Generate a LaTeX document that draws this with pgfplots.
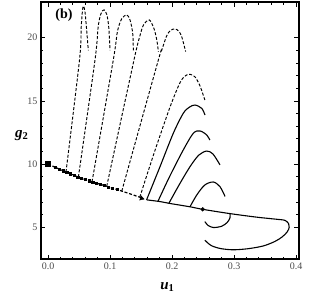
\documentclass[border=0pt]{standalone}
\usepackage{fontspec}
\setmainfont{Liberation Serif}
\usepackage{pgfplots}
\pgfplotsset{compat=1.18}
\begin{document}
\begin{tikzpicture}
\begin{axis}[
  at={(0,0)}, anchor=south west,
  scale only axis, width=258pt, height=257pt,
  xmin=-0.0113, xmax=0.4048, ymin=2.49, ymax=22.82,
  xtick={0,0.1,0.2,0.3,0.4}, ytick={5,10,15,20},
  minor x tick num=4, minor y tick num=4,
  tick align=inside, ticks=both,
  major tick length=4.5pt, minor tick length=2.5pt,
  every tick/.style={black, line width=0.7pt},
  axis line style={line width=1.1pt},
  xticklabel style={/pgf/number format/.cd, fixed, fixed zerofill, precision=1},
  /pgf/number format/assume math mode=true,
  tick label style={font=\fontsize{10}{11}\selectfont, text=black!70},
  xlabel={\textbf{\textit{u}}$_{\mathbf{1}}$},
  ylabel={\textbf{\textit{g}}$_{\mathbf{2}}$},
  xlabel style={font=\fontsize{15}{17}\selectfont, at={(axis description cs:0.49,-0.11)}, anchor=center},
  ylabel style={font=\fontsize{15}{17}\selectfont, rotate=-90, at={(axis description cs:-0.075,0.48)}, anchor=center},
  clip=false,
]
% lower dashed branch
\addplot[black, line width=1.2pt, dash pattern=on 3pt off 1.8pt, smooth] coordinates {
 (0,10) (0.029,9.37) (0.049,8.97) (0.071,8.6) (0.0947,8.24) (0.119,7.86) (0.148,7.38) (0.152,7.29)};
\addplot[only marks, mark=square*, mark size=1.1pt, black] coordinates {
 (0.012,9.74) (0.018,9.61) (0.024,9.48) (0.030,9.35) (0.036,9.23) (0.042,9.11) (0.048,8.99) (0.054,8.88) (0.060,8.78) (0.066,8.68) (0.072,8.58) (0.078,8.49) (0.084,8.39) (0.090,8.31) (0.097,8.20) (0.104,8.10) (0.111,7.99)};
\addplot[only marks, mark=square*, mark size=2.4pt, black] coordinates {(0,10)};
\addplot[only marks, mark=triangle*, mark size=2.6pt, black, mark options={rotate=-108}] coordinates {(0.151,7.29)};
% dashed up-curves
\addplot[black, line width=0.95pt, dash pattern=on 3pt off 1.8pt, smooth] coordinates {
 (0.029,9.37) (0.0508,18.24) (0.0535,20.8) (0.0555,22.1) (0.057,22.5) (0.0595,22.1) (0.062,20.8) (0.065,19.0)};
\addplot[black, line width=0.95pt, dash pattern=on 3pt off 1.8pt, smooth] coordinates {
 (0.049,8.97) (0.0758,18.24) (0.081,20.9) (0.0855,21.9) (0.0903,22.2) (0.095,21.8) (0.098,20.8) (0.100,19.0)};
\addplot[black, line width=0.95pt, dash pattern=on 3pt off 1.8pt, smooth] coordinates {
 (0.071,8.6) (0.1053,18.24) (0.112,20.5) (0.119,21.5) (0.127,21.8) (0.1323,21.4) (0.1366,20.35) (0.1376,19.0)};
\addplot[black, line width=0.95pt, dash pattern=on 3pt off 1.8pt, smooth] coordinates {
 (0.0947,8.24) (0.1387,18.24) (0.148,20.1) (0.154,21.0) (0.1634,21.4) (0.171,20.7) (0.1755,19.8) (0.178,18.9)};
\addplot[black, line width=0.95pt, dash pattern=on 3pt off 1.8pt, smooth] coordinates {
 (0.119,7.86) (0.178,18.24) (0.183,18.95) (0.191,20.1) (0.197,20.55) (0.2048,20.7) (0.211,20.5) (0.2156,20.08) (0.222,18.9)};
\addplot[black, line width=0.95pt, dash pattern=on 3pt off 1.8pt, smooth] coordinates {
 (0.148,7.38) (0.172,11.0) (0.197,14.54) (0.213,16.45) (0.222,17.0) (0.229,17.1) (0.237,16.9) (0.245,16.2) (0.253,15.07)};
% main solid branch with loop
\addplot[black, line width=1.1pt, smooth] coordinates {
 (0.159,7.17) (0.181,7.03) (0.197,6.88) (0.229,6.62) (0.2495,6.42) (0.2935,6.08) (0.3366,5.8) (0.3715,5.62) (0.382,5.55) (0.388,5.3) (0.389,5.0) (0.386,4.65) (0.378,4.25) (0.366,3.88) (0.347,3.52) (0.322,3.3) (0.298,3.22) (0.278,3.32) (0.263,3.56) (0.253,3.98)};
% solid up-curves
\addplot[black, line width=1.1pt, smooth] coordinates {
 (0.159,7.17) (0.1806,9.79) (0.2021,12.44) (0.2182,14.02) (0.228,14.5) (0.2371,14.67) (0.2479,14.41) (0.2532,13.88)};
\addplot[black, line width=1.1pt, smooth] coordinates {
 (0.177,7.02) (0.196,9.0) (0.2182,11.12) (0.2344,12.44) (0.2452,12.62) (0.256,12.3) (0.261,11.9)};
\addplot[black, line width=1.1pt, smooth] coordinates {
 (0.195,6.9) (0.212,8.4) (0.229,9.79) (0.243,10.7) (0.2558,11.03) (0.266,10.8) (0.2774,9.93)};
\addplot[black, line width=1.1pt, smooth] coordinates {
 (0.229,6.62) (0.240,7.56) (0.253,8.35) (0.2667,8.58) (0.2774,8.21) (0.2855,7.44)};
% hook
\addplot[black, line width=1.1pt, smooth] coordinates {
 (0.2935,6.08) (0.2935,5.75) (0.289,5.38) (0.280,5.08) (0.2667,4.98) (0.258,5.15) (0.253,5.45)};
% dot
\addplot[only marks, mark=*, mark size=1.9pt, black] coordinates {(0.2495,6.42)};
\node[font=\fontsize{14}{16}\selectfont\bfseries, anchor=center] at (axis description cs:0.089,0.949) {(b)};
\end{axis}
\pgfresetboundingbox
\path[use as bounding box] (-41pt,-39pt) rectangle (286pt,259pt);
\end{tikzpicture}
\end{document}
